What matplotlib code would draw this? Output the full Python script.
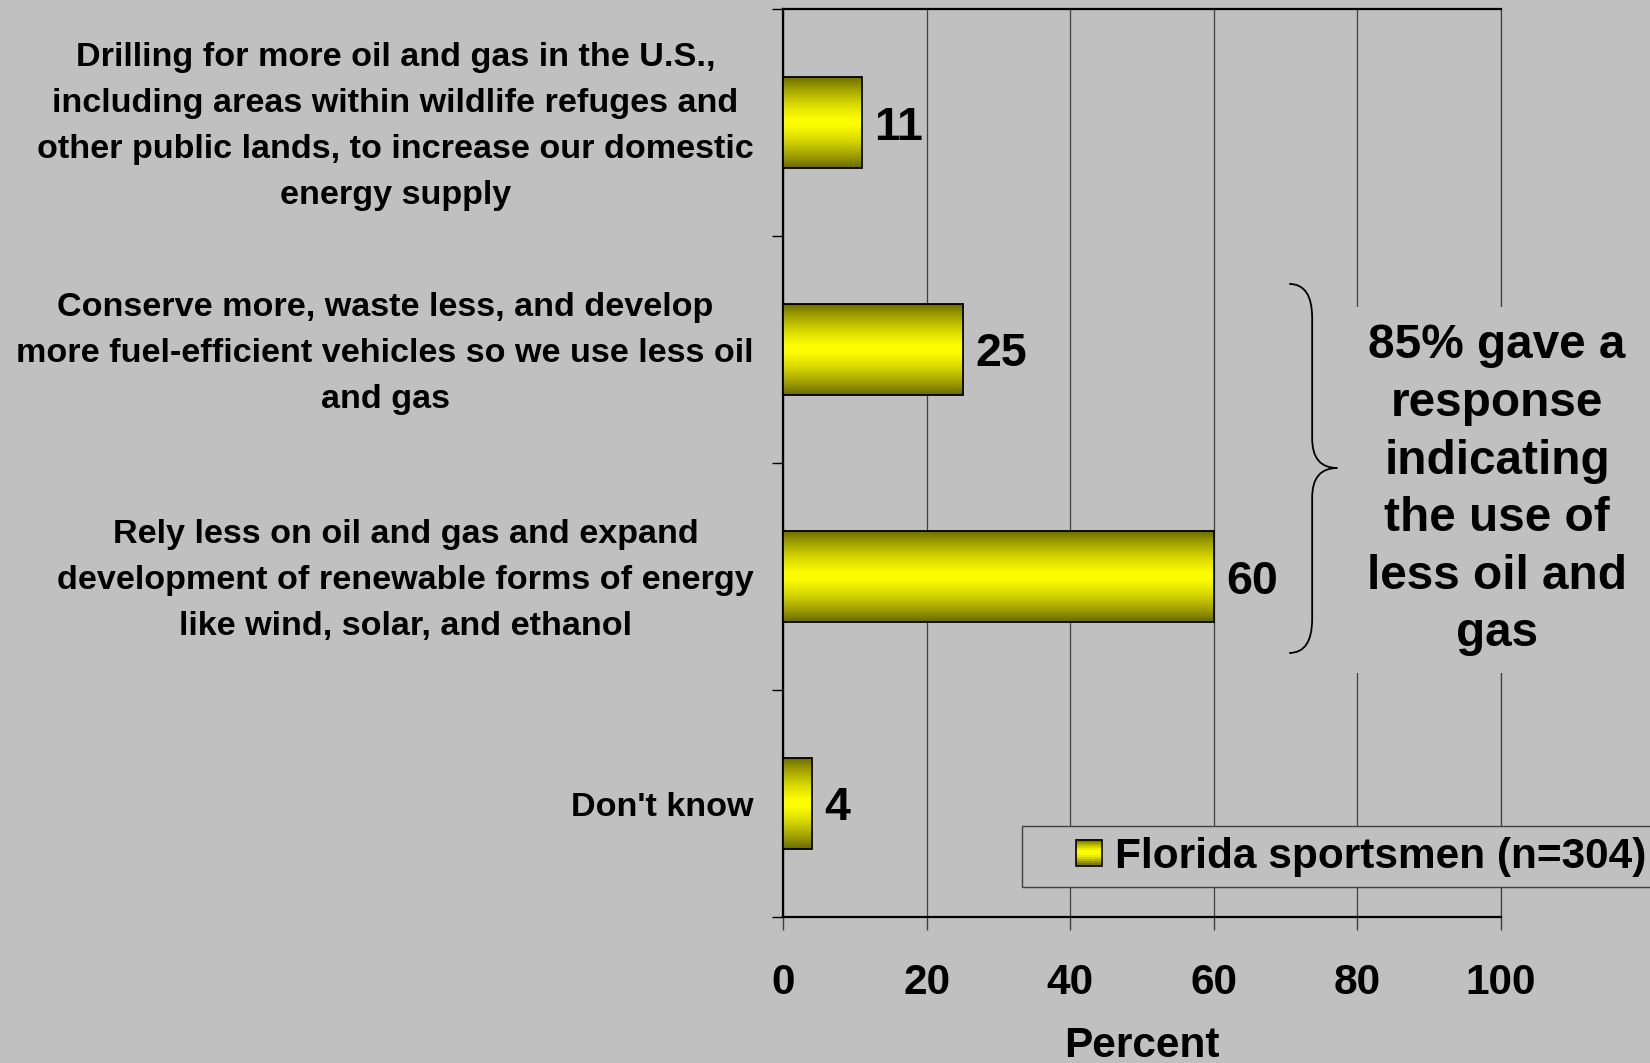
"""
horizontal bar chart: energy policy preference of Florida sportsmen, percent of respondents
"""

import numpy as np
import matplotlib
matplotlib.use("Agg")
import matplotlib.pyplot as plt
from matplotlib.colors import LinearSegmentedColormap
from matplotlib.legend_handler import HandlerBase
from matplotlib.patches import Rectangle, PathPatch, Patch
from matplotlib.path import Path
from matplotlib.transforms import ScaledTranslation

plt.rcParams['font.family'] = ['Liberation Sans', 'DejaVu Sans']
plt.rcParams['font.weight'] = 'bold'

categories = [
    "Drilling for more oil and gas in the U.S.,\nincluding areas within wildlife refuges and\n"
    "other public lands, to increase our domestic\nenergy supply",
    "Conserve more, waste less, and develop\nmore fuel-efficient vehicles so we use less oil\nand gas",
    "Rely less on oil and gas and expand\ndevelopment of renewable forms of energy\nlike wind, solar, and ethanol",
    "Don't know",
]
percents = [11, 25, 60, 4]
x_ticks = [0, 20, 40, 60, 80, 100]
series_name = "Florida sportsmen (n=304)"
note = "85% gave a\nresponse\nindicating\nthe use of\nless oil and\ngas"

BG = '#c0c0c0'
GRID = '#404040'
cmap = LinearSegmentedColormap.from_list('bar', ['#6b6b00', '#ffff00'])

# shade across the bar thickness: dark at the edges, bright yellow in the middle
t = np.linspace(0, 1, 96)
shade = 1 - np.abs(2 * t - 1) ** 1.4
grad = shade[:, None]


class GradientSquare(HandlerBase):
    # small square legend key with the same banded yellow as the bars
    def create_artists(self, legend, orig_handle, xdescent, ydescent, width, height, fontsize, trans):
        side = height
        x0 = width - side - xdescent
        y0 = -ydescent
        n = 12
        arts = []
        for i in range(n):
            c = cmap(shade[int((i + 0.5) / n * (len(shade) - 1))])
            arts.append(Rectangle((x0, y0 + i * side / n), side, side / n + 0.2,
                                  facecolor=c, edgecolor='none', transform=trans))
        arts.append(Rectangle((x0, y0), side, side, fill=False, edgecolor='black',
                              linewidth=1.2, transform=trans))
        return arts


fig = plt.figure(figsize=(16.5, 10.63), dpi=100, facecolor=BG)
ax = fig.add_axes([783 / 1650, 1 - 917 / 1063, 718 / 1650, 908 / 1063])
ax.set_facecolor(BG)

pos = np.arange(len(categories))
bars = ax.barh(pos, percents, height=0.405, facecolor='none', edgecolor='black',
               linewidth=1.3, zorder=4)
for b in bars:
    x0, y0 = b.get_x(), b.get_y()
    im = ax.imshow(grad, cmap=cmap, vmin=0, vmax=1, aspect='auto', interpolation='bilinear',
                   extent=[x0, x0 + b.get_width(), y0 + b.get_height(), y0], zorder=3)
    im.set_clip_path(b)

for lbl in ax.bar_label(bars, padding=9, fontsize=33.5, fontweight='bold'):
    lbl.set_va('center_baseline')

ax.set_xlim(0, 100)
ax.set_ylim(len(categories) - 0.5, -0.5)

# category boundaries get the tick marks, the labels sit between them
ax.set_yticks(np.arange(len(categories) + 1) - 0.5)
ax.set_yticklabels([])
ax.tick_params(axis='y', which='major', length=8, width=1, color='black', direction='out')
label_tr = ax.get_yaxis_transform() + ScaledTranslation(-21 / 72, -3 / 72, fig.dpi_scale_trans)
for p, cat in zip(pos, categories):
    ax.text(0, p, cat, transform=label_tr, ha='right', va='center', multialignment='center',
            fontsize=24.6, linespacing=1.62)

ax.set_xticks(x_ticks)
ax.tick_params(axis='x', length=9.5, width=1, color=GRID, pad=23.5, labelsize=30.5)
ax.set_xlabel("Percent", fontsize=30.5, fontweight='bold', labelpad=16.5)

ax.xaxis.grid(True, color=GRID, linewidth=0.9)
ax.set_axisbelow(True)
for side in ['left', 'bottom', 'top']:
    ax.spines[side].set_linewidth(1.6)
    ax.spines[side].set_color('black')
ax.spines['right'].set_color(GRID)
ax.spines['right'].set_linewidth(0.9)

# curly brace grouping the two "use less oil" answers
xe, xm, xt = 70.5, 73.7, 77.2
yt, yc, yb = 0.711, 1.522, 2.337
r = 0.15
verts = [(xe, yt), (xm, yt), (xm, yt + r),
         (xm, yc - 0.13), (xm, yc), (xt, yc),
         (xm, yc), (xm, yc + 0.13),
         (xm, yb - r), (xm, yb), (xe, yb)]
codes = [Path.MOVETO, Path.CURVE3, Path.CURVE3,
         Path.LINETO, Path.CURVE3, Path.CURVE3,
         Path.CURVE3, Path.CURVE3,
         Path.LINETO, Path.CURVE3, Path.CURVE3]
ax.add_patch(PathPatch(Path(verts, codes), fill=False, edgecolor='black', linewidth=1.3,
                       clip_on=False, zorder=6))

ax.legend(handles=[Patch(label=series_name)], handler_map={Patch: GradientSquare()},
          loc='upper left', bbox_to_anchor=(1022 / 1650, 1 - 826 / 1063),
          bbox_transform=fig.transFigure, prop={'size': 30.5, 'weight': 'bold'},
          handlelength=1.65, handleheight=0.57, handletextpad=0.3, borderpad=0.25,
          borderaxespad=0, fancybox=False, framealpha=1, facecolor=BG, edgecolor=GRID)

fig.text(1497 / 1650, 1 - 490 / 1063, note, ha='center', va='center', fontsize=34.4,
         linespacing=1.36,
         bbox=dict(boxstyle='square,pad=0.35', facecolor=BG, edgecolor='none'))

fig.savefig("out.png", dpi=100, facecolor=BG)
